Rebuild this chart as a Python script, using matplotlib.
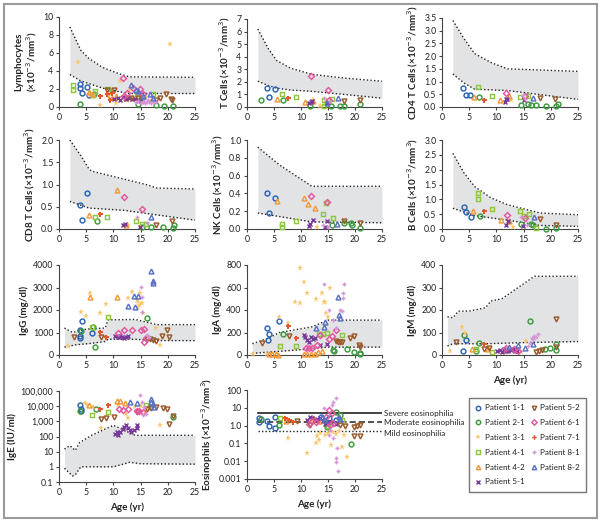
import matplotlib
matplotlib.use('Agg')
import matplotlib.pyplot as plt
from matplotlib.lines import Line2D
from matplotlib.patches import Rectangle
import numpy as np

plt.rcParams['font.family'] = ['Lato', 'DejaVu Sans']

# ---------------- patients ----------------
patients = ['1-1', '2-1', '3-1', '4-1', '4-2', '5-1', '5-2', '6-1', '7-1', '8-1', '8-2']
patient_colors = ['#2b63b5', '#3c9a3c', '#fbc56c', '#8dc63f', '#f39a3a', '#7a3a9c',
                  '#9a5a2b', '#e2569f', '#e8562e', '#d696d6', '#5b72c4']
patient_markers = ['o', 'o', '*', 's', '^', 'x', 'v', 'D', 'P', '+', '^']

# ---------------- data (age, value) per patient ----------------
lymphocytes = {
    '1-1': ([3.8, 3.9, 4.2, 5.2, 5.6], [2.6, 2.1, 1.6, 2.2, 1.3]),
    '2-1': ([3.8, 6.5, 14.5, 17.9, 19.3, 20.9], [0.35, 1.4, 0.3, 0.25, 0.15, 0.08]),
    '3-1': ([3.5, 5.5, 6.2, 7.6, 10.5, 11.2, 12.0, 12.8, 13.5, 14.4, 15.0, 16.0, 17.0, 20.4],
            [5.0, 1.4, 1.1, 0.2, 0.5, 2.9, 1.2, 1.8, 0.8, 1.4, 0.6, 1.0, 0.7, 7.0]),
    '4-1': ([2.6, 2.6, 6.3, 6.6, 9.0, 14.3, 15.2, 17.3], [2.45, 1.85, 1.35, 1.8, 2.0, 1.2, 0.8, 1.5]),
    '4-2': ([5.6, 6.1, 9.3, 10.5, 12.3], [1.7, 1.5, 1.35, 1.2, 1.0]),
    '5-1': ([10.2, 10.8, 11.3, 11.8, 12.3, 12.9, 13.4, 14.0, 14.6, 15.2],
            [0.9, 1.0, 0.8, 1.1, 0.9, 1.0, 0.85, 0.9, 0.7, 0.9]),
    '5-2': ([8.8, 10.2, 13.2, 14.5, 17.9, 18.6, 19.7, 20.5, 20.8],
            [1.9, 1.9, 0.95, 1.0, 0.8, 1.0, 1.4, 0.9, 0.75]),
    '6-1': ([11.8, 12.0, 12.5, 13.6, 14.9, 15.5], [3.2, 1.2, 1.6, 2.1, 2.0, 1.5]),
    '7-1': ([7.5, 8.9, 9.3, 9.8], [1.2, 1.4, 0.8, 1.6]),
    '8-1': ([14.2, 14.6, 15.0, 15.4, 15.6, 15.8, 16.2, 16.4, 16.6, 17.0, 17.2, 17.4, 17.8],
            [0.6, 0.7, 0.5, 0.6, 0.9, 0.5, 0.55, 0.8, 0.6, 0.5, 0.85, 0.6, 0.55]),
    '8-2': ([13.3, 14.2, 14.6, 15.5, 16.8, 17.2], [2.4, 1.9, 1.8, 1.2, 1.4, 1.0]),
}
t_cells = {
    '1-1': ([3.7, 4.1, 5.1], [1.5, 0.77, 1.43]),
    '2-1': ([2.5, 6.7, 11.7, 15.6, 17.3, 17.9, 21.0], [0.58, 0.53, 0.1, 0.1, 0.1, 0.05, 0.2]),
    '3-1': ([12.3, 13.6, 14.5], [0.58, 0.1, 0.3]),
    '4-1': ([6.5, 9.0, 14.2, 14.2, 15.7], [1.0, 0.77, 0.58, 0.1, 0.6]),
    '4-2': ([5.6, 10.8, 12.3], [0.63, 0.37, 0.45]),
    '5-1': ([11.5, 11.8, 12.0, 14.8], [0.35, 0.42, 0.45, 0.3]),
    '5-2': ([17.9, 21.0], [0.5, 0.58]),
    '6-1': ([11.9, 15.0, 15.1], [2.43, 1.32, 0.58]),
    '7-1': ([7.5], [0.69]),
    '8-1': ([14.2, 15.2], [0.7, 0.5]),
    '8-2': ([14.8, 16.8], [0.35, 0.7]),
}
cd4_cells = {
    '1-1': ([3.9, 4.4, 5.2], [0.74, 0.48, 0.48]),
    '2-1': ([6.8, 14.6, 15.8, 16.4, 17.3, 19.2, 21.0, 21.3], [0.38, 0.09, 0.13, 0.08, 0.07, 0.05, 0.05, 0.12]),
    '3-1': ([12.7], [0.29]),
    '4-1': ([6.7, 9.1, 14.3, 15.8], [0.77, 0.42, 0.38, 0.42]),
    '4-2': ([5.8, 10.6, 12.4], [0.38, 0.26, 0.44]),
    '5-1': ([11.5, 11.7, 12.0, 15.0], [0.2, 0.31, 0.3, 0.26]),
    '5-2': ([18.0, 20.8], [0.34, 0.31]),
    '6-1': ([11.8, 15.2], [0.57, 0.42]),
    '7-1': ([7.7], [0.29]),
    '8-1': ([14.8, 15.3], [0.48, 0.3]),
    '8-2': ([16.7], [0.35]),
}
cd8_cells = {
    '1-1': ([3.8, 4.2, 5.2], [0.53, 0.21, 0.81]),
    '2-1': ([6.9, 15.2, 17.0, 19.2, 20.9, 21.1], [0.19, 0.05, 0.045, 0.04, 0.02, 0.1]),
    '3-1': ([12.7], [0.1]),
    '4-1': ([6.6, 8.8, 14.1, 15.2, 16.0], [0.28, 0.28, 0.19, 0.12, 0.12]),
    '4-2': ([5.5, 10.6, 12.4], [0.31, 0.88, 0.08]),
    '5-1': ([11.7, 12.1, 14.9], [0.1, 0.12, 0.045]),
    '5-2': ([17.9, 20.8], [0.08, 0.17]),
    '6-1': ([11.9, 15.2], [0.71, 0.46]),
    '7-1': ([7.6], [0.34]),
    '8-1': ([14.3, 16.1], [0.28, 0.13]),
    '8-2': ([17.0], [0.27]),
}
nk_cells = {
    '1-1': ([3.7, 4.1, 5.1], [0.41, 0.18, 0.35]),
    '2-1': ([15.7, 17.9, 19.3, 19.4, 21.0], [0.04, 0.07, 0.07, 0.04, 0.01]),
    '3-1': ([13.0], [0.02]),
    '4-1': ([6.5, 6.5, 9.0, 14.1, 14.7, 15.9], [0.06, 0.02, 0.09, 0.17, 0.29, 0.12]),
    '4-2': ([5.6, 10.6, 11.3, 12.5], [0.31, 0.35, 0.28, 0.24]),
    '5-1': ([11.4, 11.7, 12.2, 14.5, 14.8], [0.03, 0.06, 0.1, 0.02, 0.09]),
    '5-2': ([17.9, 21.0], [0.09, 0.07]),
    '6-1': ([11.9, 14.9], [0.37, 0.3]),
    '7-1': ([], []),
    '8-1': ([14.1, 15.0], [0.05, 0.02]),
    '8-2': ([16.7], [0.06]),
}
b_cells = {
    '1-1': ([4.0, 4.5, 5.3], [0.73, 0.56, 0.4]),
    '2-1': ([6.9, 14.6, 16.4, 16.7, 19.2, 21.0], [0.45, 0.18, 0.18, 0.12, 0.01, 0.03]),
    '3-1': ([12.4, 13.0], [0.2, 0.07]),
    '4-1': ([6.7, 6.7, 9.1, 14.3, 15.1, 16.0, 17.3], [1.23, 1.02, 0.68, 0.62, 0.43, 0.5, 0.03]),
    '4-2': ([5.7, 10.8, 12.4], [0.62, 0.31, 0.26]),
    '5-1': ([11.7, 12.1, 14.9], [0.15, 0.28, 0.09]),
    '5-2': ([18.0, 21.0], [0.35, 0.12]),
    '6-1': ([11.9, 15.2], [0.48, 0.37]),
    '7-1': ([7.7], [0.62]),
    '8-1': ([14.6, 15.6], [0.39, 0.15]),
    '8-2': ([17.0], [0.4]),
}
igg = {
    '1-1': ([3.8, 3.8, 3.8, 4.2, 6.0], [1110, 844, 740, 1510, 963]),
    '2-1': ([4.0, 6.3, 6.7, 16.1], [1066, 1230, 340, 1630]),
    '3-1': ([1.6, 4.1, 5.0, 5.7, 7.5, 8.7, 12.7, 13.5, 14.3, 14.6, 14.6, 14.9, 14.9, 15.2, 15.5, 17.9, 18.5],
            [420, 1925, 1733, 2740, 1880, 2270, 2520, 2810, 2440, 2370, 2150, 2220, 2740, 2300, 1880, 1180, 440]),
    '4-1': ([6.1, 9.0], [1230, 1700]),
    '4-2': ([5.7, 10.6], [2590, 2590]),
    '5-1': ([10.3, 10.8, 11.3, 11.5, 11.9, 12.3, 12.7], [844, 800, 844, 785, 760, 800, 844]),
    '5-2': ([2.7, 7.8, 16.1, 16.7, 17.3, 17.9, 18.9, 19.8, 20.3], [815, 785, 700, 700, 670, 640, 845, 1110, 785]),
    '6-1': ([10.9, 11.9, 13.5, 15.0, 15.6, 16.0, 15.6], [990, 1110, 1110, 1110, 1150, 740, 590]),
    '7-1': ([7.6, 8.7], [1040, 785]),
    '8-1': ([15.0, 15.2, 15.2, 16.1, 16.5], [3040, 2590, 1925, 890, 800]),
    '8-2': ([12.7, 13.8, 13.9, 14.6, 17.0, 17.2, 17.3], [2190, 2620, 2150, 2620, 3730, 3300, 3180]),
}
iga = {
    '1-1': ([3.7, 3.9, 4.1, 6.0], [237, 133, 184, 302]),
    '2-1': ([6.7, 16.0, 16.1, 18.5, 19.8, 20.9, 21.0], [187, 44, 35, 50, 30, 21, 9]),
    '3-1': ([1.2, 3.7, 6.0, 7.5, 8.8, 9.8, 9.9, 10.6, 11.2, 12.7, 13.9, 14.2, 14.4, 14.7, 15.0, 15.4],
            [5, 5, 340, 281, 474, 460, 770, 652, 548, 495, 554, 474, 474, 376, 340, 593]),
    '4-1': ([6.2, 9.0, 13.3, 14.1, 14.8, 17.6], [80, 80, 187, 187, 193, 178]),
    '4-2': ([4.0, 4.6, 5.4, 5.7, 10.6, 11.2, 11.8, 12.5, 13.2, 13.9], [5, 5, 8, 0, 10, 8, 12, 10, 30, 40]),
    '5-1': ([10.6, 10.8, 11.1, 11.5, 11.8, 12.3, 12.6, 13.6, 14.8], [178, 157, 133, 120, 157, 139, 150, 89, 98]),
    '5-2': ([2.7, 7.7, 16.4, 16.8, 17.2, 17.6, 19.0, 19.9, 20.7, 21.0], [104, 169, 127, 119, 119, 119, 148, 172, 89, 74]),
    '6-1': ([11.0, 11.5, 12.0, 13.0, 13.6, 15.1, 15.7, 16.4], [59, 59, 59, 89, 178, 139, 169, 222]),
    '7-1': ([7.5, 9.0], [258, 154]),
    '8-1': ([14.3, 15.1, 16.0, 16.5, 17.3, 17.5, 17.8, 17.8, 18.0], [628, 400, 311, 240, 400, 390, 504, 554, 628]),
    '8-2': ([12.7, 14.2, 14.5, 16.8, 17.0, 17.2], [237, 252, 296, 513, 356, 326]),
}
igm = {
    '1-1': ([3.9, 4.4], [18, 67]),
    '2-1': ([4.0, 6.3, 6.8, 16.1, 18.9, 19.8, 20.9, 21.0], [89, 19, 55, 153, 25, 30, 49, 22]),
    '3-1': ([1.4, 3.6, 4.2, 10.5, 11.5, 12.5, 13.5, 14.5, 15.5], [18, 126, 96, 12, 15, 20, 18, 15, 64]),
    '4-1': ([6.3, 9.1], [28, 15]),
    '4-2': ([5.6, 8.5], [27, 27]),
    '5-1': ([10.2, 10.6, 11.0, 11.4, 11.8, 12.2, 12.6, 13.0, 13.4, 13.8], [18, 22, 15, 25, 20, 18, 22, 25, 20, 18]),
    '5-2': ([2.6, 7.8, 8.6, 17.2, 17.8, 18.3, 20.9, 21.0], [59, 27, 30, 15, 18, 22, 158, 34]),
    '6-1': ([11.8, 13.2, 14.0], [30, 25, 20]),
    '7-1': ([7.8], [49]),
    '8-1': ([15.8, 16.2, 16.5, 16.7, 17.0, 17.3, 17.6], [40, 55, 75, 70, 84, 79, 93]),
    '8-2': ([12.4, 14.0, 15.2, 16.7], [37, 44, 30, 47]),
}
ige = {
    '1-1': ([3.8, 4.0, 4.1], [11700, 4700, 7000]),
    '2-1': ([3.8, 6.8, 16.7, 20.9], [4700, 7000, 9100, 1800]),
    '3-1': ([4.7, 5.2, 6.3, 7.8, 10.9, 12.4, 12.7, 14.0, 15.0, 15.8, 16.4, 18.5],
            [15000, 12000, 9000, 350, 11700, 3000, 1550, 9000, 11000, 4000, 8000, 570]),
    '4-1': ([6.1, 9.0, 16.0], [2800, 4300, 12000]),
    '4-2': ([5.5, 10.6, 11.3, 12.1], [12600, 23000, 21000, 15000]),
    '5-1': ([10.3, 10.6, 10.9, 11.3, 11.7, 12.0, 12.3, 12.7, 13.0, 13.3, 13.7, 14.3, 14.4],
            [140, 190, 125, 200, 310, 400, 570, 380, 270, 190, 250, 350, 570]),
    '5-2': ([7.8, 8.7, 10.1, 14.3, 16.1, 17.0, 17.9, 19.2, 19.8, 20.3, 20.9],
            [1400, 1740, 2000, 4300, 7000, 7900, 9000, 7900, 7000, 630, 2300]),
    '6-1': ([11.1, 11.8, 12.7, 14.3, 14.7, 15.5], [7000, 6000, 7000, 4700, 5000, 4000]),
    '7-1': ([7.5, 9.0], [7000, 11700]),
    '8-1': ([14.9, 15.2, 15.4, 15.6, 16.0], [52000, 18000, 2600, 9000, 3000]),
    '8-2': ([13.0, 14.3, 17.0, 17.0, 17.2, 17.4], [18000, 17000, 32000, 18000, 13000, 9000]),
}
eosinophils = {
    '1-1': ([2.2, 2.3, 3.7, 4.0, 5.1, 5.2, 13.7, 15.1, 16.4], [2.6, 1.55, 1.7, 1.0, 3.2, 0.78, 3.2, 2.8, 2.1]),
    '2-1': ([2.5, 6.0, 14.8, 16.5, 17.3, 19.3], [2.4, 1.1, 0.89, 6.1, 3.7, 0.09]),
    '3-1': ([7.5, 11.1, 12.7, 13.0, 13.3, 13.6, 14.5, 15.0, 15.6, 15.9, 16.5, 17.0, 17.6, 18.0, 18.5],
            [0.2, 0.028, 0.1, 0.25, 0.16, 0.37, 0.3, 0.4, 0.085, 0.46, 0.35, 0.5, 0.06, 0.3, 0.018]),
    '4-1': ([6.2, 15.0, 17.6], [2.8, 1.0, 2.1]),
    '4-2': ([7.3, 12.3, 13.3], [1.7, 2.8, 1.7]),
    '5-1': ([11.1, 11.6, 12.0, 12.5, 13.0, 13.6, 14.0, 14.5, 15.0, 15.6, 16.5],
            [2.1, 3.0, 2.8, 2.0, 2.4, 2.8, 1.8, 1.3, 1.6, 1.5, 1.3]),
    '5-2': ([9.3, 11.7, 17.3, 18.2, 19.9, 19.9, 20.4, 20.9, 20.9], [1.7, 1.1, 1.1, 1.0, 0.89, 0.25, 1.0, 1.1, 0.25]),
    '6-1': ([11.4, 12.0, 12.8, 14.7, 15.1, 15.7, 16.0, 15.3], [1.2, 1.8, 1.6, 3.2, 7.5, 5.0, 1.4, 1.1]),
    '7-1': ([7.1, 7.7, 8.5], [2.8, 2.1, 1.6]),
    '8-1': ([14.2, 15.1, 15.4, 15.7, 15.9, 16.0, 16.4, 16.4, 16.5, 16.7, 16.9],
            [9.4, 0.3, 0.58, 14, 0.2, 22, 34, 0.015, 0.009, 0.055, 0.003]),
    '8-2': ([13.9, 14.5, 17.0, 17.3], [3.2, 2.0, 3.2, 2.5]),
}

# ---------------- reference ranges: (upper x, upper y, lower x, lower y) ----------------
ref_lymphocytes = ([2, 4, 5.5, 8, 11, 13, 25], [8.9, 6.3, 5.4, 4.4, 3.7, 3.35, 3.3],
                   [2, 4, 5.5, 8, 11, 13, 25], [3.6, 2.9, 2.6, 2.1, 1.7, 1.5, 1.5])
ref_t_cells = ([2, 4, 5.5, 8, 12, 18, 25], [6.2, 4.6, 3.7, 3.1, 2.6, 2.3, 2.05],
               [2, 4, 5.5, 8, 12, 18, 25], [2.05, 1.7, 1.5, 1.35, 1.25, 1.0, 0.7])
ref_cd4 = ([2, 4, 6, 9, 12, 25], [3.4, 2.7, 2.1, 1.75, 1.5, 1.4],
           [2, 4, 6, 12, 25], [1.3, 0.95, 0.7, 0.65, 0.3])
ref_cd8 = ([2, 4, 5.5, 6, 16, 18, 25], [2.0, 1.65, 1.35, 1.3, 1.0, 0.92, 0.9],
           [2, 5.5, 12, 16, 25], [0.62, 0.47, 0.42, 0.35, 0.2])
ref_nk = ([2, 6, 12, 25], [0.92, 0.72, 0.48, 0.48],
          [2, 6, 12, 25], [0.18, 0.14, 0.08, 0.07])
ref_b = ([2, 4, 6, 9, 12, 18, 25], [2.55, 1.9, 1.43, 1.05, 0.82, 0.54, 0.48],
         [2, 6, 12, 18, 25], [0.7, 0.45, 0.3, 0.12, 0.09])
ref_igg = ([1, 2.5, 5, 8.5, 9, 14, 18, 25], [1200, 1000, 1150, 1200, 1560, 1580, 1350, 1350],
           [1, 3, 6, 8.5, 9, 14, 18, 25], [350, 450, 520, 600, 700, 700, 640, 640])
ref_iga = ([1, 4, 6, 12, 15, 25], [100, 150, 200, 250, 310, 310],
           [1, 4, 8, 12, 15, 25], [15, 25, 40, 55, 70, 70])
ref_igm = ([1, 2, 3, 5, 8, 9, 11, 17, 25], [170, 165, 195, 195, 210, 240, 250, 350, 350],
           [1, 2, 8, 15, 25], [40, 50, 50, 55, 60])
ref_ige = ([1, 2, 3, 3.8, 6, 10, 14, 25], [15, 25, 12, 40, 120, 550, 120, 120],
           [1, 2.5, 3, 4, 10, 13, 15, 25], [0.8, 0.25, 0.3, 1.0, 1.0, 2.0, 1.6, 1.5])

eos_thresholds = [5.0, 1.5, 0.5]
eos_labels = ['Severe eosinophilia', 'Moderate eosinophilia', 'Mild eosinophilia']

fig = plt.figure(figsize=(6.03, 5.23), dpi=100)
W, H = 603.0, 523.0


def add_ax(x0, y0, x1, y1):
    return fig.add_axes([x0 / W, 1 - y1 / H, (x1 - x0) / W, (y1 - y0) / H])


SPINE = '#444444'
TXT = '#222222'


def style(ax):
    for s in ['top', 'right']:
        ax.spines[s].set_visible(False)
    for s in ['left', 'bottom']:
        ax.spines[s].set_color(SPINE)
        ax.spines[s].set_linewidth(0.8)
    ax.tick_params(direction='out', length=2.5, width=0.8, color=SPINE,
                   labelsize=6.3, pad=1.5, labelcolor=TXT)
    ax.set_xlim(0, 25)
    ax.set_xticks([0, 5, 10, 15, 20, 25])
    ax.set_facecolor('none')


def draw_ref(ax, ref, log=False):
    xu, yu, xl, yl = ref
    xs = np.array(sorted(set(xu) | set(xl)), dtype=float)
    if log:
        up = np.exp(np.interp(xs, xu, np.log(yu)))
        lo = np.exp(np.interp(xs, xl, np.log(yl)))
    else:
        up = np.interp(xs, xu, yu)
        lo = np.interp(xs, xl, yl)
    ax.fill_between(xs, lo, up, color='#e2e3e5', lw=0, zorder=1)
    ax.plot(xu, yu, color=TXT, ls=(0, (1, 1.6)), lw=1.0, zorder=2)
    ax.plot(xl, yl, color=TXT, ls=(0, (1, 1.6)), lw=1.0, zorder=2)


def marker_kw(m, c, scale=1.0):
    if m in ('o', 's', '^', 'v'):
        return dict(marker=m, ms=3.5 * scale, mfc='none', mec=c, mew=1.05)
    if m == 'D':
        return dict(marker=m, ms=3.0 * scale, mfc='none', mec=c, mew=1.05)
    if m == '*':
        return dict(marker=m, ms=4.8 * scale, color=c, mew=0)
    if m == 'P':
        return dict(marker=m, ms=3.6 * scale, color=c, mew=0)
    return dict(marker=m, ms=3.4 * scale, color=c, mew=1.05)


def draw_points(ax, data):
    for p, c, m in zip(patients, patient_colors, patient_markers):
        xs, ys = data[p]
        if not xs:
            continue
        ax.plot(xs, ys, ls='none', zorder=3, clip_on=False, **marker_kw(m, c))


def ylab(ax, text):
    ax.set_ylabel(text, fontsize=7.1, fontweight='bold', labelpad=3, linespacing=1.1, color=TXT)


def xlab(ax):
    ax.set_xlabel('Age (yr)', fontsize=7.1, fontweight='bold', labelpad=4, color=TXT)


cols = [(59, 195), (247, 382), (442, 578)]

# row 1
ax = add_ax(cols[0][0], 17, cols[0][1], 107)
style(ax); draw_ref(ax, ref_lymphocytes); draw_points(ax, lymphocytes)
ax.set_ylim(0, 10); ax.set_yticks(range(0, 11, 2))
ylab(ax, 'Lymphocytes\n(×10$^{-3}$/mm$^{3}$)')

ax = add_ax(cols[1][0], 19, cols[1][1], 107)
style(ax); draw_ref(ax, ref_t_cells); draw_points(ax, t_cells)
ax.set_ylim(0, 7); ax.set_yticks(range(0, 8))
ylab(ax, 'T Cells (×10$^{-3}$/mm$^{3}$)')

ax = add_ax(cols[2][0], 18, cols[2][1], 107)
style(ax); draw_ref(ax, ref_cd4); draw_points(ax, cd4_cells)
ax.set_ylim(0, 3.5); ax.set_yticks(np.arange(0, 3.51, 0.5))
ax.set_yticklabels(['%.1f' % v for v in np.arange(0, 3.51, 0.5)])
ylab(ax, 'CD4 T Cells (×10$^{-3}$/mm$^{3}$)')

# row 2
ax = add_ax(cols[0][0], 140, cols[0][1], 229)
style(ax); draw_ref(ax, ref_cd8); draw_points(ax, cd8_cells)
ax.set_ylim(0, 2.0); ax.set_yticks(np.arange(0, 2.01, 0.5))
ax.set_yticklabels(['%.1f' % v for v in np.arange(0, 2.01, 0.5)])
ylab(ax, 'CD8 T Cells (×10$^{-3}$/mm$^{3}$)')

ax = add_ax(cols[1][0], 140, cols[1][1], 229)
style(ax); draw_ref(ax, ref_nk); draw_points(ax, nk_cells)
ax.set_ylim(0, 1.0); ax.set_yticks(np.arange(0, 1.01, 0.2))
ax.set_yticklabels(['%.1f' % v for v in np.arange(0, 1.01, 0.2)])
ylab(ax, 'NK Cells (×10$^{-3}$/mm$^{3}$)')

ax = add_ax(cols[2][0], 140, cols[2][1], 229)
style(ax); draw_ref(ax, ref_b); draw_points(ax, b_cells)
ax.set_ylim(0, 3.0); ax.set_yticks(np.arange(0, 3.01, 0.5))
ax.set_yticklabels(['%.1f' % v for v in np.arange(0, 3.01, 0.5)])
ylab(ax, 'B Cells (×10$^{-3}$/mm$^{3}$)')

# row 3
ax = add_ax(cols[0][0], 265, cols[0][1], 355)
style(ax); draw_ref(ax, ref_igg); draw_points(ax, igg)
ax.set_ylim(0, 4000); ax.set_yticks(range(0, 4001, 1000))
ylab(ax, 'IgG (mg/dl)')

ax = add_ax(cols[1][0], 265, cols[1][1], 355)
style(ax); draw_ref(ax, ref_iga); draw_points(ax, iga)
ax.set_ylim(0, 800); ax.set_yticks(range(0, 801, 200))
ylab(ax, 'IgA (mg/dl)')

ax = add_ax(cols[2][0], 265, cols[2][1], 355)
style(ax); draw_ref(ax, ref_igm); draw_points(ax, igm)
ax.set_ylim(0, 400); ax.set_yticks(range(0, 401, 100))
ylab(ax, 'IgM (mg/dl)'); xlab(ax)

# row 4
ax = add_ax(cols[0][0], 391, cols[0][1], 482)
style(ax); ax.set_yscale('log')
draw_ref(ax, ref_ige, log=True); draw_points(ax, ige)
ax.set_ylim(0.1, 100000)
ax.set_yticks([0.1, 1, 10, 100, 1000, 10000, 100000])
ax.set_yticklabels(['0.1', '1', '10', '100', '1,000', '10,000', '100,000'])
ax.minorticks_off()
ylab(ax, 'IgE (IU/ml)'); xlab(ax)

ax = add_ax(cols[1][0], 390, cols[1][1], 479)
style(ax); ax.set_yscale('log')
ax.set_ylim(0.001, 100)
styles = ['-', (0, (4, 2)), (0, (1, 1.5))]
widths = [1.2, 1.1, 1.0]
for th, lsy, lw in zip(eos_thresholds, styles, widths):
    ax.plot([2, 25], [th, th], color=TXT, ls=lsy, lw=lw, zorder=2)
label_y = [5.0, 1.5, 0.38]
for ly, txt in zip(label_y, eos_labels):
    ax.text(25.4, ly, txt, fontsize=5.9, va='center', ha='left', color=TXT, clip_on=False)
draw_points(ax, eosinophils)
ax.set_yticks([0.001, 0.01, 0.1, 1, 10, 100])
ax.set_yticklabels(['0.001', '0.01', '0.1', '1.0', '10', '100'])
ax.minorticks_off()
ylab(ax, 'Eosinophils (×10$^{-3}$/mm$^{3}$)'); xlab(ax)

# legend: target box (pixels from top-left) x 469..585, y 398..491
handles = [Line2D([], [], ls='none', **marker_kw(m, c, 0.9))
           for p, c, m in zip(patients, patient_colors, patient_markers)]
labels = ['Patient ' + p for p in patients]
LX0, LY0, LX1, LY1 = 469, 398, 585, 491


def make_legend(fs, ls):
    lg = fig.legend(handles, labels, ncol=2, loc='upper left',
                    bbox_to_anchor=(LX0 / W, 1 - LY0 / H), bbox_transform=fig.transFigure,
                    fontsize=fs, frameon=True, fancybox=False, edgecolor='#555555',
                    handlelength=0.7, handletextpad=0.45, columnspacing=0.8,
                    labelspacing=ls, borderpad=0.8, borderaxespad=0)
    lg.get_frame().set_linewidth(1.0)
    for t in lg.get_texts():
        t.set_color(TXT)
    return lg


fs, ls = 6.0, 0.6
leg = make_legend(fs, ls)
for _ in range(6):
    fig.canvas.draw()
    bb = leg.get_window_extent()
    wr = (LX1 - LX0) / bb.width
    hr = (LY1 - LY0) / bb.height
    if abs(wr - 1) < 0.01 and abs(hr - 1) < 0.01:
        break
    leg.remove()
    fs = fs * wr
    ls = max(0.1, ls + (hr - 1) * 3.0)
    leg = make_legend(fs, ls)

# outer frame
fig.patches.append(Rectangle((4 / W, 5 / H), 593 / W, 514 / H, transform=fig.transFigure,
                             fill=False, edgecolor='#9a9a9a', lw=1.5))

fig.savefig('out.png', dpi=100)
